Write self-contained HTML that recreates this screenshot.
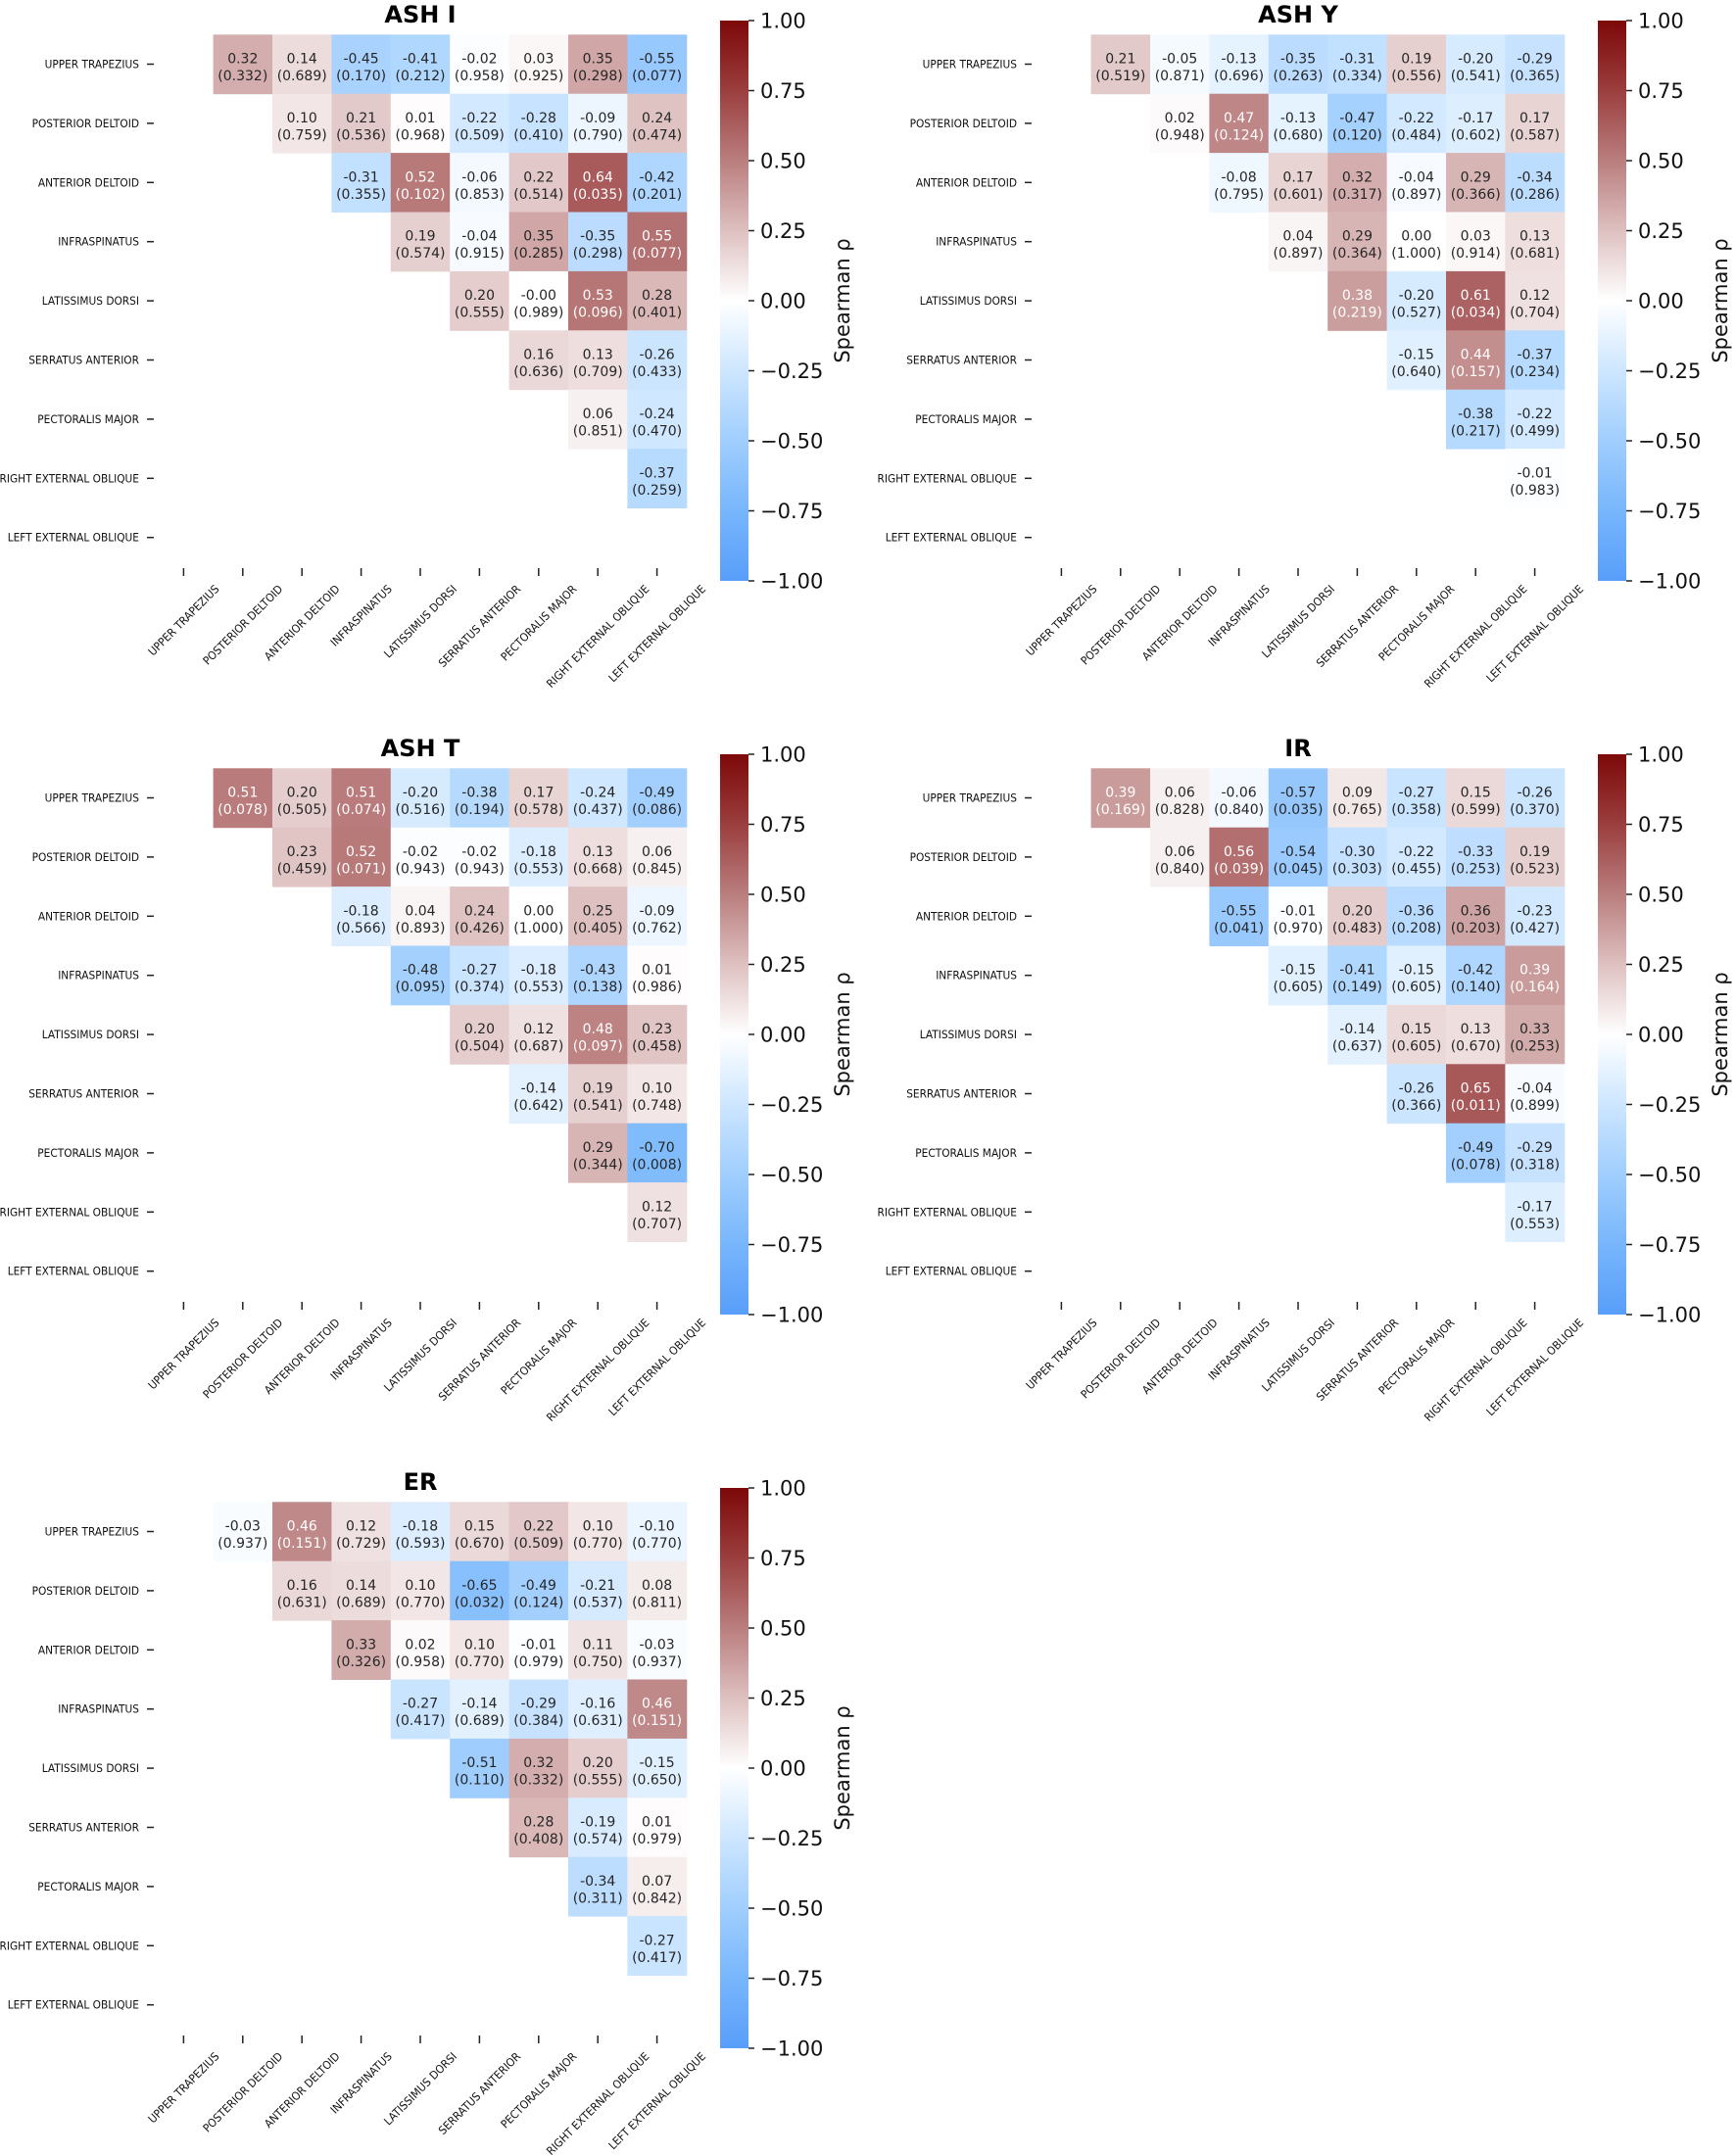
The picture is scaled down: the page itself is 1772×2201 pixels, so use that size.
<!DOCTYPE html>
<html><head><meta charset="utf-8">
<style>
html,body{margin:0;padding:0;background:#fff;}
svg{display:block;}
</style></head>
<body>
<svg id="fig" xmlns="http://www.w3.org/2000/svg" width="1772" height="2201" viewBox="0 0 1772 2201">
<defs>
<linearGradient id="cbgrad" x1="0" y1="1" x2="0" y2="0">
<stop offset="0" stop-color="rgb(88,158,250)"/>
<stop offset="0.125" stop-color="rgb(120,182,252)"/>
<stop offset="0.25" stop-color="rgb(160,206,254)"/>
<stop offset="0.375" stop-color="rgb(205,230,255)"/>
<stop offset="0.5" stop-color="rgb(255,255,255)"/>
<stop offset="0.625" stop-color="rgb(222,192,192)"/>
<stop offset="0.75" stop-color="rgb(186,126,126)"/>
<stop offset="0.875" stop-color="rgb(155,62,62)"/>
<stop offset="1" stop-color="rgb(125,8,8)"/>
</linearGradient>
</defs>
</svg>
<script>
const muscles = ["UPPER TRAPEZIUS","POSTERIOR DELTOID","ANTERIOR DELTOID","INFRASPINATUS","LATISSIMUS DORSI","SERRATUS ANTERIOR","PECTORALIS MAJOR","RIGHT EXTERNAL OBLIQUE","LEFT EXTERNAL OBLIQUE"];
const panelTitles = ["ASH I","ASH Y","ASH T","IR","ER"];
const cbTicks = [1.00,0.75,0.50,0.25,0.00,-0.25,-0.50,-0.75,-1.00];

const rhoASHI = [
[0.32,0.14,-0.45,-0.41,-0.02,0.03,0.35,-0.55],
[0.10,0.21,0.01,-0.22,-0.28,-0.09,0.24],
[-0.31,0.52,-0.06,0.22,0.64,-0.42],
[0.19,-0.04,0.35,-0.35,0.55],
[0.20,-0.00,0.53,0.28],
[0.16,0.13,-0.26],
[0.06,-0.24],
[-0.37]];
const pASHI = [
["0.332","0.689","0.170","0.212","0.958","0.925","0.298","0.077"],
["0.759","0.536","0.968","0.509","0.410","0.790","0.474"],
["0.355","0.102","0.853","0.514","0.035","0.201"],
["0.574","0.915","0.285","0.298","0.077"],
["0.555","0.989","0.096","0.401"],
["0.636","0.709","0.433"],
["0.851","0.470"],
["0.259"]];

const rhoASHY = [
[0.21,-0.05,-0.13,-0.35,-0.31,0.19,-0.20,-0.29],
[0.02,0.47,-0.13,-0.47,-0.22,-0.17,0.17],
[-0.08,0.17,0.32,-0.04,0.29,-0.34],
[0.04,0.29,0.00,0.03,0.13],
[0.38,-0.20,0.61,0.12],
[-0.15,0.44,-0.37],
[-0.38,-0.22],
[-0.01]];
const pASHY = [
["0.519","0.871","0.696","0.263","0.334","0.556","0.541","0.365"],
["0.948","0.124","0.680","0.120","0.484","0.602","0.587"],
["0.795","0.601","0.317","0.897","0.366","0.286"],
["0.897","0.364","1.000","0.914","0.681"],
["0.219","0.527","0.034","0.704"],
["0.640","0.157","0.234"],
["0.217","0.499"],
["0.983"]];

const rhoASHT = [
[0.51,0.20,0.51,-0.20,-0.38,0.17,-0.24,-0.49],
[0.23,0.52,-0.02,-0.02,-0.18,0.13,0.06],
[-0.18,0.04,0.24,0.00,0.25,-0.09],
[-0.48,-0.27,-0.18,-0.43,0.01],
[0.20,0.12,0.48,0.23],
[-0.14,0.19,0.10],
[0.29,-0.70],
[0.12]];
const pASHT = [
["0.078","0.505","0.074","0.516","0.194","0.578","0.437","0.086"],
["0.459","0.071","0.943","0.943","0.553","0.668","0.845"],
["0.566","0.893","0.426","1.000","0.405","0.762"],
["0.095","0.374","0.553","0.138","0.986"],
["0.504","0.687","0.097","0.458"],
["0.642","0.541","0.748"],
["0.344","0.008"],
["0.707"]];

const rhoIR = [
[0.39,0.06,-0.06,-0.57,0.09,-0.27,0.15,-0.26],
[0.06,0.56,-0.54,-0.30,-0.22,-0.33,0.19],
[-0.55,-0.01,0.20,-0.36,0.36,-0.23],
[-0.15,-0.41,-0.15,-0.42,0.39],
[-0.14,0.15,0.13,0.33],
[-0.26,0.65,-0.04],
[-0.49,-0.29],
[-0.17]];
const pIR = [
["0.169","0.828","0.840","0.035","0.765","0.358","0.599","0.370"],
["0.840","0.039","0.045","0.303","0.455","0.253","0.523"],
["0.041","0.970","0.483","0.208","0.203","0.427"],
["0.605","0.149","0.605","0.140","0.164"],
["0.637","0.605","0.670","0.253"],
["0.366","0.011","0.899"],
["0.078","0.318"],
["0.553"]];

const rhoER = [
[-0.03,0.46,0.12,-0.18,0.15,0.22,0.10,-0.10],
[0.16,0.14,0.10,-0.65,-0.49,-0.21,0.08],
[0.33,0.02,0.10,-0.01,0.11,-0.03],
[-0.27,-0.14,-0.29,-0.16,0.46],
[-0.51,0.32,0.20,-0.15],
[0.28,-0.19,0.01],
[-0.34,0.07],
[-0.27]];
const pER = [
["0.937","0.151","0.729","0.593","0.670","0.509","0.770","0.770"],
["0.631","0.689","0.770","0.032","0.124","0.537","0.811"],
["0.326","0.958","0.770","0.979","0.750","0.937"],
["0.417","0.689","0.384","0.631","0.151"],
["0.110","0.332","0.555","0.650"],
["0.408","0.574","0.979"],
["0.311","0.842"],
["0.417"]];

const allRho = [rhoASHI,rhoASHY,rhoASHT,rhoIR,rhoER];
const allP = [pASHI,pASHY,pASHT,pIR,pER];

const NS="http://www.w3.org/2000/svg";
const svg=document.getElementById('fig');
const offsets=[[0,0],[896,0],[0,749],[896,749],[0,1498]];
const gridLeft=157.2, gridTop=35.3, cell=60.4;
const cbX=735, cbW=29, cbTop=21, cbBot=593;
const squeeze=0.92;

const stops=[[-1,[88,158,250]],[-0.75,[120,182,252]],[-0.5,[160,206,254]],[-0.25,[205,230,255]],[0,[255,255,255]],[0.25,[222,192,192]],[0.5,[186,126,126]],[0.75,[155,62,62]],[1,[125,8,8]]];
function cmap(v){
  v=Math.max(-1,Math.min(1,v));
  for(let k=0;k<stops.length-1;k++){
    const a=stops[k],b=stops[k+1];
    if(v<=b[0]){const t=(v-a[0])/(b[0]-a[0]);
      const c=a[1].map((x,i)=>Math.round(x+(b[1][i]-x)*t));
      return `rgb(${c[0]},${c[1]},${c[2]})`;}
  }
  return 'rgb(125,8,8)';
}
function xPos(j){return gridLeft+cell*j;}
function yPos(i){return gridTop+cell*i;}
function cbY(v){return cbTop+(1-v)/2*(cbBot-cbTop);}
function el(tag,attrs,parent){const e=document.createElementNS(NS,tag);for(const k in attrs)e.setAttribute(k,attrs[k]);(parent||svg).appendChild(e);return e;}
function fmt(v){return (v<0||Object.is(v,-0)?'-':'')+Math.abs(v).toFixed(2);}

allRho.forEach((rho,pi)=>{
  const [ox,oy]=offsets[pi];
  const g=el('g',{transform:`translate(${ox},${oy})`});
  
  
  const title=el('text',{x:gridLeft+cell*4.5,y:23,'text-anchor':'middle','font-family':'DejaVu Sans, Liberation Sans, sans-serif','font-weight':'bold','font-size':24,fill:'#000'},g);
  title.textContent=panelTitles[pi];
  
  
  rho.forEach((row,i)=>{
    row.forEach((v,k)=>{
      const j=i+1+k;
      const x=xPos(j), y=yPos(i);
      const r=el('rect',{x:x,y:y,width:cell+0.5,height:cell+0.5,fill:cmap(v)},g);
      
      
      const col=v>=0.37?'#fff':'#262626';
      const t1=el('text',{x:x+cell/2,y:y+cell/2-1,'text-anchor':'middle','font-family':'DejaVu Sans, sans-serif','font-size':14,fill:col},g);
      t1.textContent=fmt(v);
      
      
      const t2=el('text',{x:x+cell/2,y:y+cell/2+16.5,'text-anchor':'middle','font-family':'DejaVu Sans, sans-serif','font-size':14,fill:col},g);
      t2.textContent='('+allP[pi][i][k]+')';
      
      
    });
  });
  muscles.forEach((m,i)=>{
    const cy=yPos(i)+cell/2;
    el('line',{x1:150,x2:157,y1:cy,y2:cy,stroke:'#222','stroke-width':1.5},g);
    const t=el('text',{x:142,y:cy+4,'text-anchor':'end','font-family':'DejaVu Sans, sans-serif','font-size':11.5,fill:'#111'},g);
    t.textContent=m;
    
    
    const L=t.getComputedTextLength();
    t.setAttribute('textLength',(L*squeeze).toFixed(1));
    t.setAttribute('lengthAdjust','spacingAndGlyphs');
  });
  muscles.forEach((m,j)=>{
    const tx=gridLeft+cell*(j+0.5);
    el('line',{x1:tx,x2:tx,y1:580,y2:588,stroke:'#222','stroke-width':1.5},g);
    const t=el('text',{x:0,y:0,'text-anchor':'middle','font-family':'DejaVu Sans, sans-serif','font-size':11.5,fill:'#111'},g);
    t.textContent=m;
    
    
    const L=t.getComputedTextLength()*squeeze;
    t.setAttribute('textLength',L.toFixed(1));
    t.setAttribute('lengthAdjust','spacingAndGlyphs');
    const H=(L+9)*0.7071;
    const cyy=596+H/2;
    t.setAttribute('transform',`translate(${tx},${cyy}) rotate(-45) translate(0,4)`);
  });
  const cb=el('rect',{x:cbX,y:cbTop,width:cbW,height:cbBot-cbTop,fill:'url(#cbgrad)'},g);
  
  
  cbTicks.forEach(v=>{
    const y=cbY(v);
    el('line',{x1:cbX+cbW,x2:cbX+cbW+6,y1:y,y2:y,stroke:'#222','stroke-width':1.5},g);
    const t=el('text',{x:cbX+cbW+12,y:y+7.5,'font-family':'DejaVu Sans, sans-serif','font-size':21,fill:'#111'},g);
    t.textContent=(v<0?'\u2212':'')+Math.abs(v).toFixed(2);
    
    
  });
  const ct=el('text',{x:0,y:0,'text-anchor':'middle','font-family':'DejaVu Sans, sans-serif','font-size':21,fill:'#111',transform:`translate(867,${(cbTop+cbBot)/2}) rotate(-90)`},g);
  ct.textContent='Spearman \u03c1';
  
  
});
</script>
</body></html>
